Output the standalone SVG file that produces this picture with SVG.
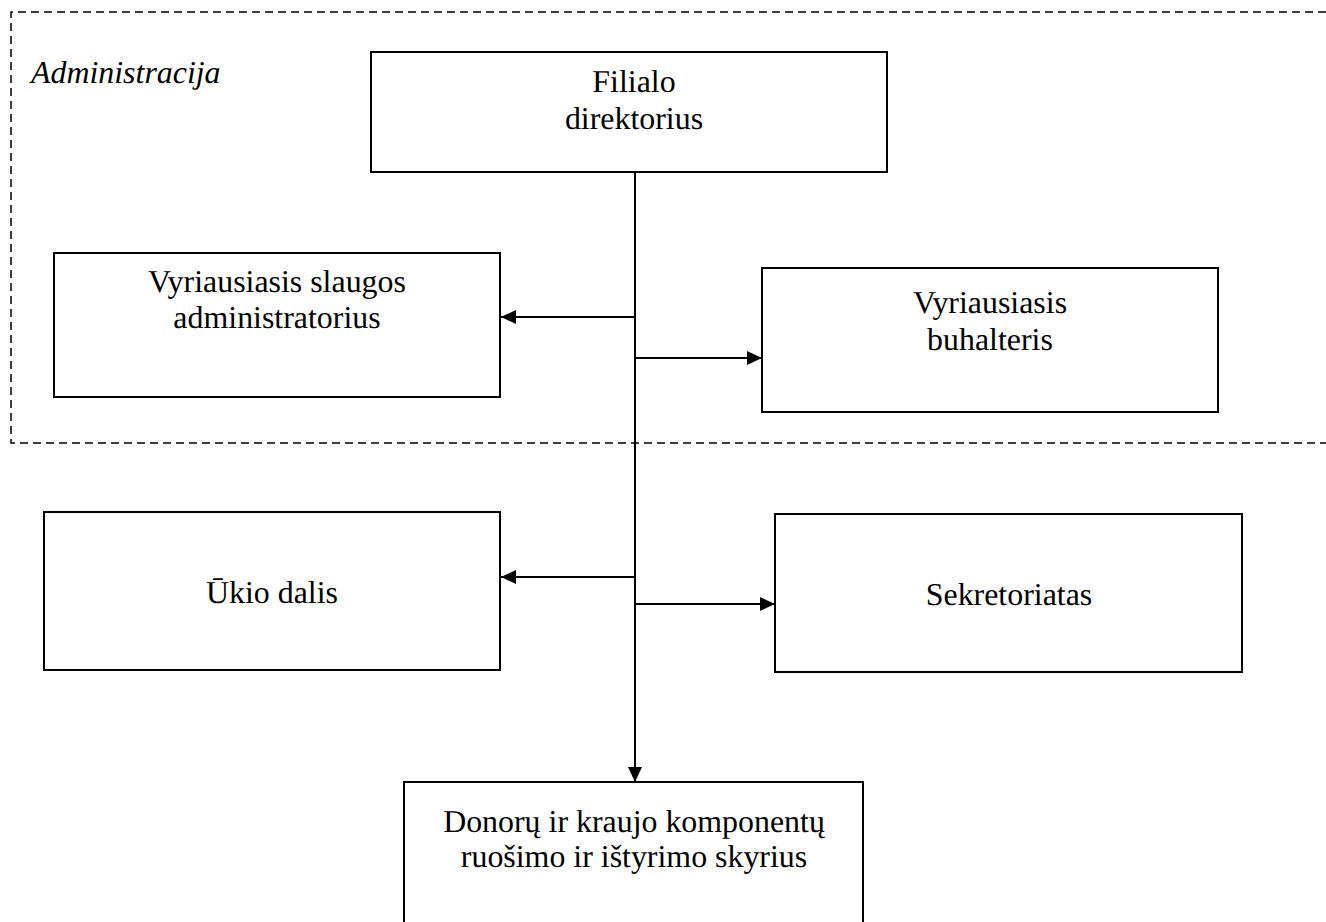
<svg xmlns="http://www.w3.org/2000/svg" width="1326" height="922" viewBox="0 0 1326 922">
<defs>
<style>
.box{fill:#fff;stroke:#000;stroke-width:2}
.c{stroke:#000;stroke-width:2;fill:none}
</style>
<marker id="ah" viewBox="0 0 10 10" refX="10" refY="5" markerWidth="15" markerHeight="14" markerUnits="userSpaceOnUse" orient="auto" preserveAspectRatio="none">
<path d="M0,0 L10,5 L0,10 Z" fill="#000"/>
</marker>
</defs>
<rect width="1326" height="922" fill="#fff"/>
<g font-family="'Liberation Serif', serif" font-size="31.9" text-rendering="geometricPrecision" fill="#000">
<g id="admin-region">
<path d="M1326,12 H11 V443 H1326" fill="none" stroke="#000" stroke-width="1.5" stroke-dasharray="8,5"/>
<text x="31" y="83" font-style="italic">Administracija</text>
</g>
<g id="connectors">
<path class="c" d="M635,172 V782" marker-end="url(#ah)"/>
<path class="c" d="M635,317 H501" marker-end="url(#ah)"/>
<path class="c" d="M635,358 H762" marker-end="url(#ah)"/>
<path class="c" d="M635,577 H501" marker-end="url(#ah)"/>
<path class="c" d="M635,604 H775" marker-end="url(#ah)"/>
</g>
<g text-anchor="middle">
<g id="n-direktorius">
<rect class="box" x="371" y="52" width="516" height="120"/>
<text x="634" y="92">Filialo</text>
<text x="634" y="129">direktorius</text>
</g>
<g id="n-slauga">
<rect class="box" x="54" y="253" width="446" height="144"/>
<text x="277" y="292">Vyriausiasis slaugos</text>
<text x="277" y="328">administratorius</text>
</g>
<g id="n-buhalteris">
<rect class="box" x="762" y="268" width="456" height="144"/>
<text x="990" y="313">Vyriausiasis</text>
<text x="990" y="350">buhalteris</text>
</g>
<g id="n-ukio">
<rect class="box" x="44" y="512" width="456" height="158"/>
<text x="272" y="603">Ūkio dalis</text>
</g>
<g id="n-sekretoriatas">
<rect class="box" x="775" y="514" width="467" height="158"/>
<text x="1009" y="605">Sekretoriatas</text>
</g>
<g id="n-donoru">
<rect class="box" x="404" y="782" width="459" height="150"/>
<text x="634" y="832">Donorų ir kraujo komponentų</text>
<text x="634" y="867">ruošimo ir ištyrimo skyrius</text>
</g>
</g>
</g>
</svg>
